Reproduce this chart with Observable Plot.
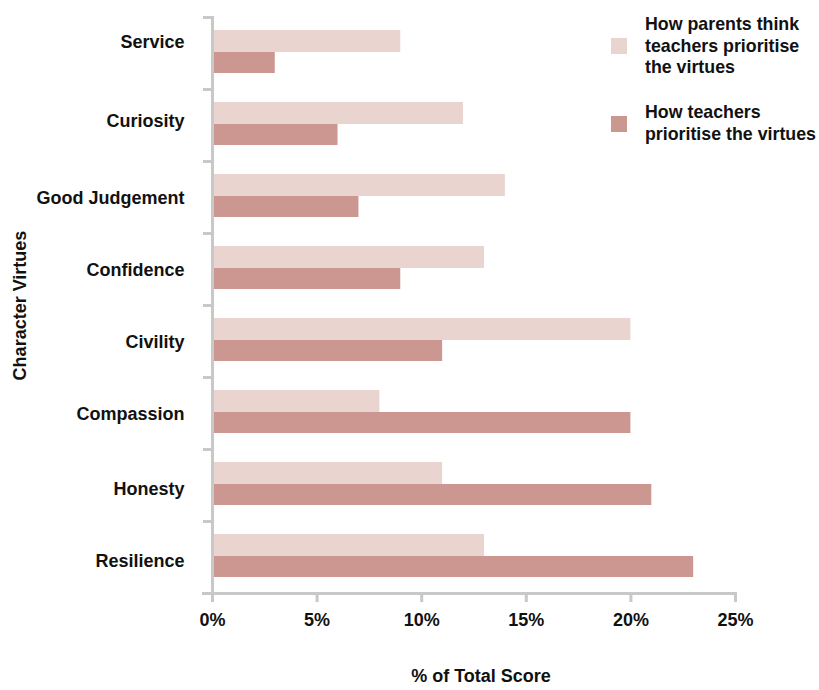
<!DOCTYPE html>
<html>
<head>
<meta charset="utf-8">
<script src="https://cdn.jsdelivr.net/npm/d3@7"></script>
<script src="https://cdn.jsdelivr.net/npm/@observablehq/plot@0.6"></script>
<style>
  html, body { margin: 0; padding: 0; background: #fff; }
  #wrap { position: relative; width: 819px; height: 690px; font-family: "Liberation Sans", Arial, sans-serif; }
  .leg { position: absolute; left: 611px; display: flex; align-items: center; font-weight: bold; font-size: 17.8px; line-height: 21.5px; color: #111; white-space: nowrap; }
  .sw { width: 16px; height: 16px; margin-right: 18px; flex: none; }
</style>
</head>
<body>
<div id="wrap"></div>
<script>
const virtues = ["Service", "Curiosity", "Good Judgement", "Confidence", "Civility", "Compassion", "Honesty", "Resilience"];
const parentsView = [9, 12, 14, 13, 20, 8, 11, 13];
const teachersView = [3, 6, 7, 9, 11, 20, 21, 23];
const xTicks = [0, 5, 10, 15, 20, 25];
const seriesNames = ["How parents think<br>teachers prioritise<br>the virtues", "How teachers<br>prioritise the virtues"];
const seriesColors = ["#ead4d0", "#cc9791"];
const xLabel = "% of Total Score";
const yLabel = "Character Virtues";

const data = virtues.map((v, i) => ({virtue: v, parents: parentsView[i], teachers: teachersView[i]}));
const axisColor = "#c8c8c8";
const ink = "#111";

// y labels: the reference nudges a few labels slightly off the band centre
const labelAxis = (ticks, dy) => Plot.axisY({ticks, dy, tickSize: 0, tickPadding: 28, label: null, fill: ink});

const chart = Plot.plot({
  width: 819,
  height: 690,
  marginLeft: 212,
  marginRight: 84,
  marginTop: 17,
  marginBottom: 97,
  style: {fontFamily: '"Liberation Sans", Arial, sans-serif', fontSize: "18px", fontWeight: "bold", color: ink, background: "#fff"},
  x: {domain: [0, 25], ticks: xTicks, tickFormat: d => d + "%"},
  y: {domain: virtues, padding: 0},
  marks: [
    Plot.barX(data, {x: "parents", y: "virtue", fill: seriesColors[0], insetTop: 13, insetBottom: 37}),
    Plot.barX(data, {x: "teachers", y: "virtue", fill: seriesColors[1], insetTop: 35, insetBottom: 16}),
    labelAxis(virtues.slice(0, 1), -11),
    labelAxis(virtues.slice(1, 2), -4),
    labelAxis(virtues.slice(2, 6), 1),
    labelAxis(virtues.slice(6), 4),
    Plot.axisY({tickSize: 9, text: null, dy: -36, stroke: axisColor, strokeWidth: 3, strokeOpacity: 1, label: null}),
    Plot.axisX({ticks: xTicks, tickFormat: d => d + "%", tickSize: 9, tickPadding: 11, stroke: axisColor, strokeWidth: 3, strokeOpacity: 1, label: null, fill: ink}),
    Plot.frame({anchor: "left", stroke: axisColor, strokeWidth: 3, strokeOpacity: 1}),
    Plot.frame({anchor: "bottom", stroke: axisColor, strokeWidth: 3, strokeOpacity: 1, insetLeft: -9}),
    Plot.text([xLabel], {frameAnchor: "bottom", dy: 88, dx: 7, fill: ink}),
    Plot.text([yLabel], {frameAnchor: "left", textAnchor: "middle", rotate: -90, dx: -192, fill: ink})
  ]
});

const wrap = document.getElementById("wrap");
wrap.appendChild(chart);
const tops = [14, 102];
seriesNames.forEach((name, i) => {
  const d = document.createElement("div");
  d.className = "leg";
  d.style.top = tops[i] + "px";
  d.innerHTML = `<div class="sw" style="background:${seriesColors[i]}"></div><div>${name}</div>`;
  wrap.appendChild(d);
});
</script>
</body>
</html>
